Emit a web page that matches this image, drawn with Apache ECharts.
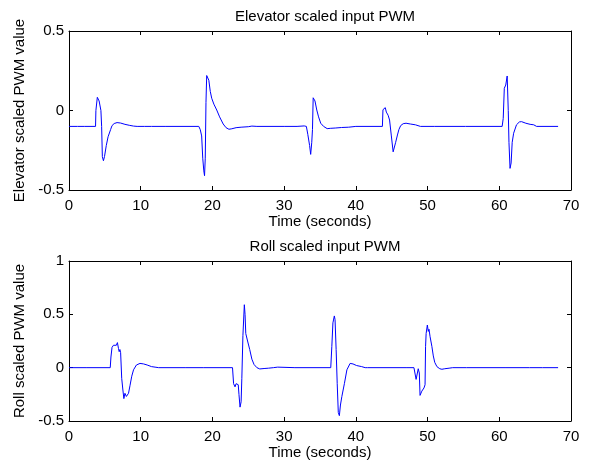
<!DOCTYPE html>
<html><head><meta charset="utf-8">
<script src="https://cdn.jsdelivr.net/npm/echarts@6/dist/echarts.min.js"></script>
<style>html,body{margin:0;padding:0;background:#fff}#c{width:594px;height:466px}</style>
</head><body><div id="c"></div>
<script>
const xTicks = [0,10,20,30,40,50,60,70];
const elevTitle = 'Elevator scaled input PWM';
const rollTitle = 'Roll scaled input PWM';
const elevT = [0,1.2,1.3,1.4,2.2,2.3,2.4,3.7,3.75,3.95,4.2,4.45,4.55,4.65,4.8,4.95,5.2,5.45,5.6,5.8,6.0,6.3,6.7,7.2,7.8,8.4,9.0,9.5,10.5,10.6,10.7,11.5,11.6,11.7,13.4,13.5,13.6,18.1,18.3,18.5,18.65,18.8,18.9,19.0,19.1,19.2,19.35,19.5,19.7,19.9,20.2,20.6,21.0,21.5,21.9,22.3,22.7,23.3,24,25,25.5,25.6,26.2,30,30.1,30.2,31.8,31.9,32.0,32.8,33.1,33.3,33.55,33.7,33.85,33.95,34.05,34.15,34.3,34.55,34.8,35.1,35.5,36,36.5,37.2,38,39,40,40.1,40.2,43.7,43.78,43.95,44.1,44.25,44.5,44.7,44.95,45.2,45.35,45.55,45.8,46.0,46.25,46.6,47.0,47.6,48.3,49,49.1,49.2,51,51.1,51.2,55.3,55.4,55.5,60.4,60.55,60.7,60.9,61.1,61.25,61.35,61.5,61.65,61.8,62.0,62.4,62.8,63.1,63.7,64.3,64.8,65.2,68.2];
const elevV = [-0.1,-0.1,-0.103,-0.1,-0.1,-0.102,-0.1,-0.1,0.0,0.083,0.06,0.0,-0.1,-0.29,-0.316,-0.29,-0.22,-0.165,-0.155,-0.12,-0.095,-0.082,-0.076,-0.079,-0.087,-0.093,-0.098,-0.1,-0.1,-0.095,-0.1,-0.1,-0.093,-0.1,-0.1,-0.103,-0.1,-0.1,-0.12,-0.16,-0.3,-0.38,-0.41,-0.3,0.05,0.22,0.228,0.19,0.12,0.077,0.04,0.003,-0.04,-0.085,-0.108,-0.118,-0.115,-0.108,-0.105,-0.102,-0.098,-0.103,-0.1,-0.1,-0.103,-0.1,-0.1,-0.105,-0.1,-0.097,-0.1,-0.15,-0.22,-0.276,-0.2,-0.12,0.08,0.083,0.06,0.003,-0.04,-0.08,-0.1,-0.114,-0.112,-0.11,-0.107,-0.105,-0.1,-0.093,-0.1,-0.1,0.005,0.005,0.018,-0.01,-0.03,-0.06,-0.16,-0.26,-0.265,-0.2,-0.154,-0.12,-0.095,-0.083,-0.08,-0.085,-0.09,-0.1,-0.104,-0.1,-0.1,-0.106,-0.1,-0.1,-0.105,-0.1,-0.1,-0.05,0.14,0.16,0.217,0.0,-0.2,-0.364,-0.33,-0.2,-0.143,-0.09,-0.072,-0.07,-0.08,-0.087,-0.09,-0.1,-0.1];
const rollT = [0,2.5,2.6,2.7,5.75,5.85,6.0,6.2,6.4,6.6,6.75,6.9,7.0,7.1,7.2,7.35,7.5,7.65,7.8,8.0,8.15,8.3,8.5,8.75,9.0,9.4,9.9,10.4,10.9,11.5,12,12.2,12.5,16.3,16.4,16.5,18.8,18.9,19.0,22.8,22.95,23.15,23.3,23.45,23.6,23.7,23.85,24.0,24.1,24.25,24.45,24.55,24.65,24.9,25.2,25.5,25.8,26.2,26.6,27.2,27.8,28.5,29.1,29.2,31.5,31.6,31.7,36.5,36.65,36.8,37.0,37.1,37.25,37.4,37.55,37.7,37.85,38.05,38.4,38.75,39.2,39.6,40.1,40.8,41.0,41.3,41.5,41.6,47.0,47.1,47.2,48.1,48.4,48.55,48.7,48.85,48.95,49.2,49.5,49.65,49.72,49.8,49.97,50.1,50.2,50.35,50.6,50.8,51.0,51.3,51.7,52.0,52.4,53,53.5,55.4,55.5,55.6,60.8,60.9,61,64.2,64.3,64.4,66,68.2];
const rollV = [0,0,0.01,0,0,0.1,0.19,0.21,0.22,0.21,0.235,0.18,0.15,0.17,0.14,-0.1,-0.2,-0.29,-0.24,-0.27,-0.26,-0.24,-0.17,-0.08,-0.02,0.025,0.04,0.035,0.025,0.01,0.005,-0.005,0,0,0.005,0,0,0.005,0,0,-0.15,-0.18,-0.15,-0.14,-0.16,-0.25,-0.37,-0.32,-0.1,0.3,0.59,0.5,0.32,0.25,0.17,0.08,0.03,0,-0.012,-0.008,-0.005,0,0.005,0,0,-0.005,0,0,0.2,0.42,0.485,0.45,0.17,-0.15,-0.42,-0.45,-0.35,-0.27,-0.15,-0.02,0.04,0.035,0.02,0.01,-0.003,0,0.01,0,0,0.01,0,0,-0.11,-0.1,-0.01,-0.05,-0.26,-0.22,-0.19,-0.16,0.2,0.32,0.4,0.34,0.36,0.29,0.2,0.11,0.05,0.01,-0.01,-0.015,-0.01,-0.005,0,0,0.008,0,0,0.008,0,0,-0.005,0,0,0];

const FONT = 'Liberation Sans';
const txt = {color:'#000', fontFamily:FONT, fontSize:15};
function zip(t,v){return t.map((x,i)=>[x,v[i]]);}
function xa(gi, main){
  return {type:'value', gridIndex:gi, min:0, max:70, interval:10, position: main?'bottom':'top',
    axisLine:{show:true, onZero:false, lineStyle:{color:'#000', width:1}},
    axisTick:{show:true, inside:true, length:4, lineStyle:{color:'#000'}},
    axisLabel:{show:main, margin:8, ...txt},
    splitLine:{show:false},
    name: main?'Time (seconds)':'', nameLocation:'middle', nameGap:24, nameTextStyle:txt};
}
function ya(gi, main, min, max, name){
  return {type:'value', gridIndex:gi, min:min, max:max, interval:0.5, position: main?'left':'right',
    axisLine:{show:true, onZero:false, lineStyle:{color:'#000', width:1}},
    axisTick:{show:true, inside:true, length:4, lineStyle:{color:'#000'}},
    axisLabel:{show:main, margin:5, ...txt, formatter:v=>String(v)},
    splitLine:{show:false},
    name: main?name:'', nameLocation:'middle', nameGap:37, nameRotate:90, nameTextStyle:txt};
}
const chart = echarts.init(document.getElementById('c'), null, {renderer:'canvas'});
chart.setOption({
  animation:false,
  backgroundColor:'#fff',
  title:[
    {text:elevTitle, left:320, top:4, textAlign:'center', textStyle:{...txt, fontWeight:'normal'}},
    {text:rollTitle, left:320, top:234, textAlign:'center', textStyle:{...txt, fontWeight:'normal'}}
  ],
  grid:[
    {left:69, right:23, top:31, height:159},
    {left:69, right:23, top:261, height:160}
  ],
  xAxis:[xa(0,true), xa(0,false), xa(1,true), xa(1,false)],
  yAxis:[ya(0,true,-0.5,0.5,'Elevator scaled PWM value'), ya(0,false,-0.5,0.5,''),
         ya(1,true,-0.5,1,'Roll scaled PWM value'), ya(1,false,-0.5,1,'')],
  series:[
    {type:'line', xAxisIndex:0, yAxisIndex:0, data:zip(elevT,elevV), showSymbol:false, lineStyle:{color:'#0000ff', width:1}},
    {type:'line', xAxisIndex:2, yAxisIndex:2, data:zip(rollT,rollV), showSymbol:false, lineStyle:{color:'#0000ff', width:1}}
  ]
});
</script></body></html>
